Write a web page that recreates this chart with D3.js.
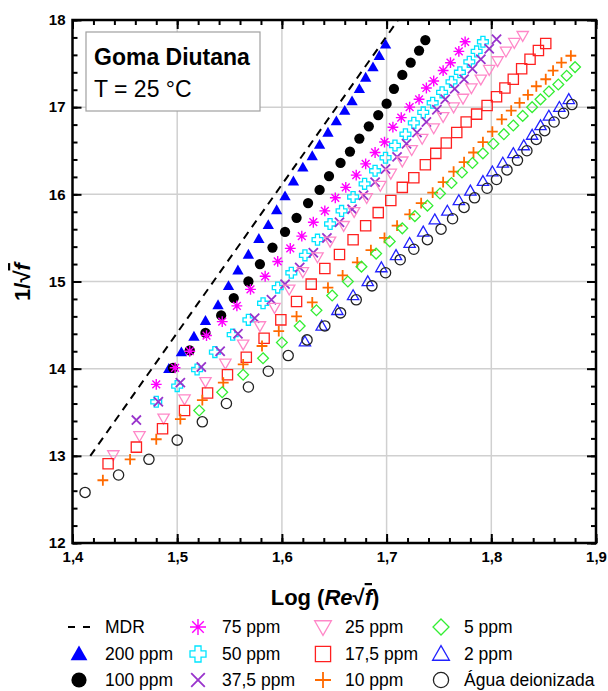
<!DOCTYPE html>
<html>
<head>
<meta charset="utf-8">
<script src="https://cdn.jsdelivr.net/npm/d3@7"></script>
<style>
  body { margin: 0; background: #fff; }
  text { font-family: "Liberation Sans", Arial, sans-serif; }
</style>
</head>
<body>
<svg id="chart" width="608" height="691"></svg>
<script>

// data: [log(Re sqrt f), 1/sqrt f]
var mdrLine = [[1.417, 13.0], [1.711, 18.0]];

var p200 = [[1.492,14.00],[1.504,14.19],[1.516,14.37],[1.527,14.55],[1.539,14.73],[1.549,14.95],[1.558,15.13],[1.568,15.31],[1.578,15.49],[1.587,15.65],[1.595,15.82],[1.603,15.98],[1.611,16.15],[1.620,16.31],[1.629,16.44],[1.636,16.57],[1.644,16.71],[1.652,16.84],[1.660,16.96],[1.667,17.07],[1.674,17.21],[1.680,17.34],[1.687,17.46],[1.693,17.59],[1.699,17.72]];

var p100 = [[1.496,14.01],[1.512,14.21],[1.527,14.41],[1.542,14.61],[1.554,14.81],[1.568,15.00],[1.579,15.20],[1.591,15.39],[1.603,15.57],[1.614,15.73],[1.625,15.90],[1.636,16.05],[1.645,16.21],[1.656,16.36],[1.665,16.49],[1.674,16.64],[1.683,16.78],[1.692,16.91],[1.700,17.04],[1.707,17.21],[1.715,17.37],[1.723,17.51],[1.731,17.65],[1.737,17.77]];

var p75 = [[1.480,13.82],[1.498,14.01],[1.512,14.20],[1.528,14.38],[1.543,14.54],[1.557,14.72],[1.570,14.91],[1.584,15.06],[1.596,15.23],[1.608,15.38],[1.619,15.52],[1.630,15.68],[1.641,15.81],[1.651,15.96],[1.661,16.08],[1.671,16.22],[1.680,16.35],[1.689,16.48],[1.698,16.60],[1.706,16.77],[1.714,16.88],[1.722,17.00],[1.731,17.09],[1.738,17.22],[1.745,17.30],[1.754,17.42],[1.761,17.51],[1.769,17.64],[1.775,17.75]];

var p50 = [[1.480,13.62],[1.500,13.80],[1.519,13.99],[1.536,14.19],[1.553,14.39],[1.568,14.56],[1.582,14.75],[1.596,14.93],[1.609,15.10],[1.622,15.30],[1.634,15.48],[1.646,15.66],[1.657,15.81],[1.668,15.97],[1.679,16.12],[1.689,16.27],[1.699,16.42],[1.708,16.56],[1.718,16.69],[1.726,16.82],[1.735,16.94],[1.744,17.05],[1.753,17.17],[1.762,17.29],[1.770,17.40],[1.779,17.52],[1.786,17.64],[1.792,17.75]];

var p37 = [[1.461,13.41],[1.482,13.62],[1.503,13.84],[1.523,14.02],[1.541,14.20],[1.558,14.40],[1.574,14.58],[1.590,14.79],[1.603,14.97],[1.617,15.16],[1.630,15.33],[1.643,15.50],[1.655,15.68],[1.667,15.83],[1.678,15.99],[1.689,16.14],[1.699,16.29],[1.710,16.43],[1.719,16.58],[1.729,16.71],[1.738,16.83],[1.748,16.97],[1.756,17.09],[1.765,17.21],[1.774,17.32],[1.782,17.44],[1.790,17.55],[1.798,17.67],[1.805,17.78]];

var p25 = [[1.439,13.01],[1.464,13.23],[1.487,13.43],[1.507,13.65],[1.527,13.85],[1.546,14.06],[1.563,14.28],[1.579,14.49],[1.593,14.70],[1.607,14.91],[1.620,15.11],[1.634,15.28],[1.646,15.46],[1.659,15.64],[1.669,15.80],[1.681,15.96],[1.694,16.10],[1.704,16.24],[1.715,16.38],[1.724,16.51],[1.734,16.64],[1.745,16.76],[1.754,16.89],[1.764,17.00],[1.773,17.10],[1.781,17.22],[1.790,17.32],[1.798,17.43],[1.806,17.53],[1.814,17.64],[1.822,17.74],[1.830,17.82]];

var p17 = [[1.434,12.91],[1.461,13.10],[1.486,13.31],[1.507,13.52],[1.529,13.72],[1.548,13.93],[1.566,14.13],[1.583,14.35],[1.599,14.56],[1.614,14.77],[1.628,14.97],[1.641,15.15],[1.655,15.31],[1.668,15.48],[1.680,15.64],[1.692,15.79],[1.704,15.93],[1.715,16.08],[1.726,16.19],[1.737,16.34],[1.747,16.47],[1.757,16.59],[1.767,16.71],[1.776,16.83],[1.786,16.92],[1.796,17.02],[1.805,17.12],[1.813,17.22],[1.821,17.32],[1.829,17.44],[1.837,17.55],[1.845,17.65],[1.852,17.73]];

var p10 = [[1.429,12.72],[1.455,12.96],[1.480,13.19],[1.503,13.42],[1.524,13.64],[1.544,13.84],[1.563,14.05],[1.581,14.26],[1.597,14.43],[1.614,14.60],[1.629,14.76],[1.644,14.93],[1.658,15.07],[1.672,15.22],[1.685,15.36],[1.698,15.50],[1.710,15.64],[1.722,15.77],[1.733,15.90],[1.744,16.02],[1.754,16.14],[1.764,16.26],[1.774,16.37],[1.783,16.48],[1.792,16.60],[1.801,16.72],[1.810,16.86],[1.819,16.96],[1.827,17.05],[1.835,17.14],[1.843,17.24],[1.852,17.32],[1.859,17.42],[1.867,17.51],[1.876,17.59]];

var p5 = [[1.521,13.52],[1.543,13.73],[1.563,13.93],[1.582,14.12],[1.600,14.30],[1.617,14.49],[1.633,14.67],[1.648,14.84],[1.663,15.00],[1.676,15.17],[1.690,15.32],[1.703,15.46],[1.715,15.61],[1.727,15.75],[1.739,15.87],[1.751,16.01],[1.762,16.13],[1.772,16.25],[1.782,16.36],[1.792,16.47],[1.802,16.58],[1.812,16.69],[1.821,16.79],[1.830,16.90],[1.839,17.00],[1.847,17.09],[1.855,17.18],[1.864,17.26],[1.872,17.36],[1.880,17.46]];

var p2 = [[1.622,14.31],[1.638,14.49],[1.653,14.67],[1.668,14.84],[1.682,15.00],[1.695,15.16],[1.709,15.30],[1.722,15.44],[1.735,15.57],[1.746,15.71],[1.758,15.81],[1.769,15.93],[1.780,16.04],[1.792,16.15],[1.801,16.26],[1.811,16.36],[1.821,16.47],[1.831,16.56],[1.839,16.68],[1.847,16.79],[1.855,16.90],[1.865,17.00],[1.874,17.09]];

var pWater = [[1.412,12.58],[1.444,12.78],[1.473,12.96],[1.500,13.18],[1.524,13.39],[1.547,13.60],[1.568,13.79],[1.587,13.97],[1.606,14.15],[1.624,14.33],[1.641,14.49],[1.656,14.64],[1.671,14.79],[1.686,14.95],[1.699,15.10],[1.713,15.25],[1.726,15.37],[1.739,15.48],[1.752,15.60],[1.763,15.72],[1.774,15.85],[1.784,15.96],[1.796,16.07],[1.805,16.17],[1.815,16.28],[1.825,16.39],[1.834,16.50],[1.843,16.63],[1.851,16.73],[1.860,16.83],[1.869,16.93],[1.877,17.03]];

var xTicks = [1.4, 1.5, 1.6, 1.7, 1.8, 1.9];
var yTicks = [12, 13, 14, 15, 16, 17, 18];
var seriesLabels = ['MDR', '200 ppm', '100 ppm', '75 ppm', '50 ppm', '37,5 ppm', '25 ppm', '17,5 ppm', '10 ppm', '5 ppm', '2 ppm', 'Água deionizada'];

var series = [
  { label: '200 ppm', data: p200, shape: 'triUp', color: '#0000ff', filled: true },
  { label: '100 ppm', data: p100, shape: 'circle', color: '#000000', filled: true },
  { label: '75 ppm', data: p75, shape: 'asterisk', color: '#ff00ff' },
  { label: '50 ppm', data: p50, shape: 'openPlus', color: '#00e5ff' },
  { label: '37,5 ppm', data: p37, shape: 'cross', color: '#9933cc' },
  { label: '25 ppm', data: p25, shape: 'triDown', color: '#ff88c8' },
  { label: '17,5 ppm', data: p17, shape: 'square', color: '#ff2020' },
  { label: '10 ppm', data: p10, shape: 'plus', color: '#ff6a00' },
  { label: '5 ppm', data: p5, shape: 'diamond', color: '#33ee33' },
  { label: '2 ppm', data: p2, shape: 'triUp', color: '#2222ff' },
  { label: 'Água deionizada', data: pWater, shape: 'circle', color: '#222222' }
];

var margin = { left: 72.5, right: 596, top: 20, bottom: 543 };

var svg = d3.select('#chart');

var x = d3.scaleLinear().domain([1.4, 1.9]).range([margin.left, margin.right]);
var y = d3.scaleLinear().domain([12, 18]).range([margin.bottom, margin.top]);

var ptBR = d3.formatLocale({ decimal: ',', thousands: '.', grouping: [3], currency: ['R$', ''] });
var fmtX = ptBR.format('.1f');

// marker paths, r is the half size
function shapePath(shape, r) {
  var a = r * 0.38;
  switch (shape) {
    case 'triUp':
      return 'M0,' + (-r * 1.05) + 'L' + (r * 1.05) + ',' + (r * 0.78) + 'L' + (-r * 1.05) + ',' + (r * 0.78) + 'Z';
    case 'triDown':
      return 'M0,' + (r * 1.05) + 'L' + (r * 1.05) + ',' + (-r * 0.78) + 'L' + (-r * 1.05) + ',' + (-r * 0.78) + 'Z';
    case 'square':
      return 'M' + (-r * 0.95) + ',' + (-r * 0.95) + 'h' + (r * 1.9) + 'v' + (r * 1.9) + 'h' + (-r * 1.9) + 'Z';
    case 'diamond':
      return 'M0,' + (-r) + 'L' + r + ',0L0,' + r + 'L' + (-r) + ',0Z';
    case 'asterisk':
      var d = r * 0.72;
      return 'M0,' + (-r) + 'V' + r + 'M' + (-r) + ',0H' + r +
        'M' + (-d) + ',' + (-d) + 'L' + d + ',' + d + 'M' + d + ',' + (-d) + 'L' + (-d) + ',' + d;
    case 'cross':
      var c = r * 0.85;
      return 'M' + (-c) + ',' + (-c) + 'L' + c + ',' + c + 'M' + c + ',' + (-c) + 'L' + (-c) + ',' + c;
    case 'plus':
      return 'M0,' + (-r) + 'V' + r + 'M' + (-r) + ',0H' + r;
    case 'openPlus':
      return 'M' + (-a) + ',' + (-r) + 'H' + a + 'V' + (-a) + 'H' + r + 'V' + a + 'H' + a + 'V' + r +
        'H' + (-a) + 'V' + a + 'H' + (-r) + 'V' + (-a) + 'H' + (-a) + 'Z';
  }
  return '';
}

function drawMarker(g, s, r) {
  if (s.shape === 'circle') {
    g.append('circle')
      .attr('r', r * 0.95)
      .style('fill', s.filled ? s.color : 'none')
      .style('stroke', s.color)
      .style('stroke-width', s.filled ? 0 : 1.3);
    return;
  }
  g.append('path')
    .attr('d', shapePath(s.shape, r))
    .style('fill', s.filled ? s.color : 'none')
    .style('stroke', s.color)
    .style('stroke-width', s.filled ? 0 : (s.shape === 'cross' || s.shape === 'plus' ? 1.8 : (s.shape === 'asterisk' ? 1.4 : 1.3)))
    .style('stroke-linejoin', 'miter');
}

/* grid lines at the major ticks, under everything else */
var grid = svg.append('g').attr('class', 'grid');
grid.selectAll('line.gx')
  .data(xTicks.slice(1, -1))
  .enter().append('line')
  .attr('x1', function(d) { return x(d); })
  .attr('x2', function(d) { return x(d); })
  .attr('y1', margin.top).attr('y2', margin.bottom)
  .style('stroke', '#d0d0d0').style('stroke-width', 1.5);
grid.selectAll('line.gy')
  .data(yTicks.slice(1, -1))
  .enter().append('line')
  .attr('y1', function(d) { return y(d); })
  .attr('y2', function(d) { return y(d); })
  .attr('x1', margin.left).attr('x2', margin.right)
  .style('stroke', '#d0d0d0').style('stroke-width', 1.5);

// text box
var box = svg.append('g').attr('class', 'note');
box.append('rect')
  .attr('x', 86).attr('y', 32).attr('width', 174).attr('height', 79)
  .style('fill', '#fff').style('stroke', '#a0a0a0').style('stroke-width', 1.2);
box.append('text')
  .attr('x', 94).attr('y', 65)
  .style('font-size', '23px').style('font-weight', 'bold')
  .text('Goma Diutana');
box.append('text')
  .attr('x', 94).attr('y', 97)
  .style('font-size', '23px')
  .text('T = 25 °C');

// MDR asymptote
svg.append('path')
  .datum(mdrLine)
  .attr('d', d3.line().x(function(d) { return x(d[0]); }).y(function(d) { return y(d[1]); }))
  .style('fill', 'none')
  .style('stroke', '#000')
  .style('stroke-width', 2)
  .style('stroke-dasharray', '8,6');

// data markers, drawn in legend order
series.forEach(function(s) {
  var g = svg.append('g').attr('class', 'series');
  g.selectAll('g.pt')
    .data(s.data)
    .enter().append('g')
    .attr('class', 'pt')
    .attr('transform', function(d) { return 'translate(' + x(d[0]) + ',' + y(d[1]) + ')'; })
    .each(function() { drawMarker(d3.select(this), s, 5.4); });
});

/* axes: major and minor ticks point inward on all four sides, labels only bottom and left */
var minorX = d3.range(1.4, 1.9001, 0.02);
var minorY = d3.range(12, 18.001, 0.2);

function styleAxis(g) {
  g.selectAll('.domain').remove();
  g.selectAll('.tick line').style('stroke', '#000').style('stroke-width', 2);
}

svg.append('g')
  .attr('transform', 'translate(0,' + margin.bottom + ')')
  .call(d3.axisBottom(x).tickValues(minorX).tickSize(-5).tickFormat(''))
  .call(styleAxis);
svg.append('g')
  .attr('transform', 'translate(0,' + margin.top + ')')
  .call(d3.axisTop(x).tickValues(minorX).tickSize(-5).tickFormat(''))
  .call(styleAxis);
svg.append('g')
  .attr('transform', 'translate(' + margin.left + ',0)')
  .call(d3.axisLeft(y).tickValues(minorY).tickSize(-5).tickFormat(''))
  .call(styleAxis);
svg.append('g')
  .attr('transform', 'translate(' + margin.right + ',0)')
  .call(d3.axisRight(y).tickValues(minorY).tickSize(-5).tickFormat(''))
  .call(styleAxis);

var xAxis = svg.append('g')
  .attr('transform', 'translate(0,' + margin.bottom + ')')
  .call(d3.axisBottom(x).tickValues(xTicks).tickSize(-9).tickPadding(8).tickFormat(fmtX))
  .call(styleAxis);
svg.append('g')
  .attr('transform', 'translate(0,' + margin.top + ')')
  .call(d3.axisTop(x).tickValues(xTicks).tickSize(-9).tickFormat(''))
  .call(styleAxis);
var yAxis = svg.append('g')
  .attr('transform', 'translate(' + margin.left + ',0)')
  .call(d3.axisLeft(y).tickValues(yTicks).tickSize(-9).tickPadding(7).tickFormat(d3.format('d')))
  .call(styleAxis);
svg.append('g')
  .attr('transform', 'translate(' + margin.right + ',0)')
  .call(d3.axisRight(y).tickValues(yTicks).tickSize(-9).tickFormat(''))
  .call(styleAxis);

[xAxis, yAxis].forEach(function(a) {
  a.selectAll('.tick text')
    .style('font-family', '"Liberation Sans", Arial, sans-serif')
    .style('font-size', '15px')
    .style('font-weight', 'bold')
    .style('fill', '#000');
});

// frame
svg.append('rect')
  .attr('x', margin.left).attr('y', margin.top)
  .attr('width', margin.right - margin.left).attr('height', margin.bottom - margin.top)
  .style('fill', 'none').style('stroke', '#000').style('stroke-width', 2.5);

// axis titles
var xTitle = svg.append('text')
  .attr('x', 325).attr('y', 605)
  .attr('text-anchor', 'middle')
  .style('font-size', '22px').style('font-weight', 'bold');
xTitle.append('tspan').text('Log (');
xTitle.append('tspan').style('font-style', 'italic').text('Re');
xTitle.append('tspan').text('√');
xTitle.append('tspan').style('font-style', 'italic').style('text-decoration', 'overline').text('f');
xTitle.append('tspan').text(')');

var yTitle = svg.append('text')
  .attr('transform', 'translate(30,282) rotate(-90)')
  .attr('text-anchor', 'middle')
  .style('font-size', '22px').style('font-weight', 'bold');
yTitle.append('tspan').text('1/√');
yTitle.append('tspan').style('font-style', 'italic').style('text-decoration', 'overline').text('f');

/* legend: four columns of three rows */
var legCols = [79, 198, 323, 441];
var legText = [105, 222, 345, 464];
var legRows = [627, 654, 680];
var legend = svg.append('g').attr('class', 'legend');

seriesLabels.forEach(function(lab, i) {
  var col = Math.floor(i / 3), row = i % 3;
  var g = legend.append('g')
    .attr('transform', 'translate(' + legCols[col] + ',' + legRows[row] + ')');
  if (i === 0) {
    g.append('line')
      .attr('x1', -11).attr('x2', 11)
      .style('stroke', '#000').style('stroke-width', 2)
      .style('stroke-dasharray', '7,8');
  } else {
    drawMarker(g, series[i - 1], 8);
  }
  legend.append('text')
    .attr('x', legText[col]).attr('y', legRows[row])
    .attr('dy', '0.35em')
    .style('font-size', '17.5px')
    .text(lab);
});

</script>
</body>
</html>
